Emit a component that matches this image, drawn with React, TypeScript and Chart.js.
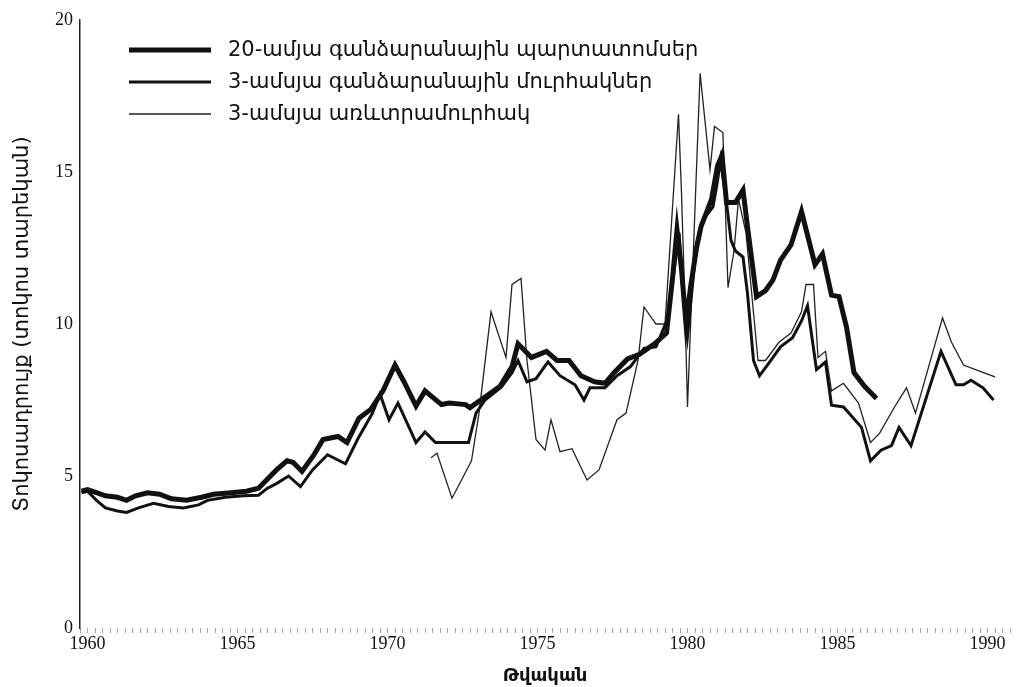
import React, { useEffect, useRef } from 'react';
import { Chart, registerables } from 'chart.js';

Chart.register(...registerables);

// 20-year treasury bonds
const bondYears = [1959.8, 1960.0, 1960.3, 1960.6, 1961.0, 1961.3, 1961.6, 1962.0, 1962.4, 1962.8, 1963.3, 1963.8, 1964.2, 1964.8, 1965.3, 1965.7, 1966.0, 1966.3, 1966.65, 1966.85, 1967.15, 1967.55, 1967.85, 1968.35, 1968.65, 1969.05, 1969.45, 1969.85, 1970.25, 1970.55, 1970.95, 1971.25, 1971.8, 1972.05, 1972.6, 1972.75, 1973.25, 1973.75, 1974.15, 1974.35, 1974.8, 1975.3, 1975.65, 1976.05, 1976.45, 1976.9, 1977.25, 1977.55, 1978.0, 1978.4, 1978.9, 1979.3, 1979.5, 1979.65, 1979.8, 1979.95, 1980.1, 1980.3, 1980.45, 1980.8, 1981.0, 1981.15, 1981.3, 1981.6, 1981.85, 1982.0, 1982.3, 1982.6, 1982.85, 1983.1, 1983.45, 1983.8, 1984.25, 1984.5, 1984.8, 1985.05, 1985.3, 1985.55, 1985.9, 1986.3];
const bondValues = [4.5, 4.55, 4.45, 4.35, 4.3, 4.2, 4.35, 4.45, 4.4, 4.25, 4.2, 4.3, 4.4, 4.45, 4.5, 4.6, 4.9, 5.2, 5.5, 5.45, 5.15, 5.7, 6.2, 6.3, 6.1, 6.9, 7.2, 7.8, 8.65, 8.1, 7.3, 7.8, 7.35, 7.4, 7.35, 7.25, 7.6, 7.95, 8.6, 9.35, 8.9, 9.1, 8.8, 8.8, 8.3, 8.1, 8.05, 8.4, 8.85, 9.0, 9.35, 9.7, 11.5, 13.1, 11.8, 10.0, 11.2, 12.5, 13.2, 14.1, 15.2, 15.55, 14.0, 14.0, 14.4, 13.2, 10.9, 11.1, 11.45, 12.1, 12.6, 13.7, 11.95, 12.3, 10.95, 10.9, 9.9, 8.4, 7.95, 7.55];

// 3-year treasury notes
const noteYears = [1959.8, 1960.0, 1960.3, 1960.6, 1961.0, 1961.3, 1961.7, 1962.2, 1962.7, 1963.2, 1963.7, 1964.0, 1964.6, 1965.2, 1965.7, 1966.0, 1966.3, 1966.7, 1967.1, 1967.5, 1968.0, 1968.6, 1969.0, 1969.5, 1969.75, 1970.05, 1970.35, 1970.95, 1971.25, 1971.6, 1972.0, 1972.7, 1972.95, 1973.25, 1973.8, 1974.15, 1974.35, 1974.65, 1974.95, 1975.35, 1975.75, 1976.25, 1976.55, 1976.75, 1977.25, 1977.65, 1978.1, 1978.55, 1978.95, 1979.35, 1979.6, 1979.72, 1979.85, 1980.0, 1980.3, 1980.5, 1980.85, 1981.0, 1981.1, 1981.3, 1981.45, 1981.6, 1981.85, 1982.0, 1982.2, 1982.4, 1982.7, 1983.1, 1983.5, 1983.8, 1984.0, 1984.3, 1984.6, 1984.8, 1985.2, 1985.8, 1986.1, 1986.45, 1986.8, 1987.05, 1987.45, 1988.45, 1988.95, 1989.2, 1989.45, 1989.85, 1990.2];
const noteValues = [4.45, 4.5, 4.2, 3.95, 3.85, 3.8, 3.95, 4.1, 4.0, 3.95, 4.05, 4.2, 4.3, 4.35, 4.37, 4.6, 4.75, 5.0, 4.65, 5.2, 5.7, 5.4, 6.2, 7.07, 7.7, 6.85, 7.4, 6.1, 6.45, 6.1, 6.1, 6.1, 7.07, 7.5, 7.93, 8.4, 8.8, 8.1, 8.2, 8.75, 8.3, 8.0, 7.5, 7.9, 7.9, 8.3, 8.6, 9.2, 9.25, 10.2, 12.1, 13.0, 11.0, 9.6, 12.65, 13.4, 13.85, 14.7, 15.4, 14.0, 12.75, 12.4, 12.2, 11.0, 8.8, 8.3, 8.7, 9.25, 9.55, 10.1, 10.6, 8.5, 8.75, 7.33, 7.27, 6.6, 5.5, 5.85, 6.0, 6.6, 6.0, 9.1, 8.0, 8.0, 8.15, 7.9, 7.5];

// 3-month commercial paper
const billYears = [1971.45, 1971.65, 1972.15, 1972.8, 1973.05, 1973.45, 1973.95, 1974.15, 1974.45, 1974.65, 1974.95, 1975.25, 1975.45, 1975.75, 1976.15, 1976.65, 1977.05, 1977.65, 1977.95, 1978.35, 1978.55, 1978.95, 1979.25, 1979.7, 1979.8, 1979.9, 1980.0, 1980.42, 1980.75, 1980.9, 1981.18, 1981.35, 1981.55, 1981.7, 1981.95, 1982.35, 1982.6, 1983.05, 1983.45, 1983.8, 1983.95, 1984.2, 1984.35, 1984.6, 1984.8, 1985.2, 1985.7, 1986.1, 1986.4, 1986.9, 1987.3, 1987.6, 1988.5, 1988.8, 1989.2, 1989.6, 1990.25];
const billValues = [5.6, 5.75, 4.27, 5.5, 7.07, 10.4, 8.9, 11.3, 11.5, 8.8, 6.2, 5.85, 6.85, 5.8, 5.9, 4.87, 5.2, 6.85, 7.07, 8.8, 10.56, 10.0, 10.0, 16.9, 14.3, 11.1, 7.27, 18.25, 15.07, 16.5, 16.3, 11.2, 12.4, 14.1, 13.0, 8.8, 8.8, 9.4, 9.7, 10.4, 11.3, 11.3, 8.9, 9.1, 7.8, 8.05, 7.4, 6.1, 6.4, 7.27, 7.9, 7.07, 10.2, 9.4, 8.65, 8.5, 8.26];

const seriesLabels = [
  '20-ամյա գանձարանային պարտատոմսեր',
  '3-ամսյա գանձարանային մուրհակներ',
  '3-ամսյա առևտրամուրհակ',
];
const yAxisTitle = 'Տոկոսադրույք (տոկոս տարեկան)';
const xAxisTitle = 'Թվական';
const xLabelYears = [1960, 1965, 1970, 1975, 1980, 1985, 1990];

const toPoints = (xs: number[], ys: number[]) => xs.map((x, i) => ({ x, y: ys[i] }));

const legendPlugin = {
  id: 'armLegend',
  afterDraw(chart: any) {
    const ctx = chart.ctx;
    ctx.save();
    chart.data.datasets.forEach((ds: any, i: number) => {
      const y = 50 + i * 32;
      ctx.beginPath();
      ctx.moveTo(129, y);
      ctx.lineTo(211, y);
      ctx.lineWidth = ds.borderWidth;
      ctx.strokeStyle = ds.borderColor;
      ctx.stroke();
      ctx.fillStyle = '#111';
      ctx.font = '21px "DejaVu Sans"';
      ctx.textBaseline = 'middle';
      ctx.textAlign = 'left';
      ctx.fillText(ds.label, 228, y + 1);
    });
    ctx.restore();
  },
};

export default function App() {
  const ref = useRef<HTMLCanvasElement | null>(null);
  useEffect(() => {
    if (!ref.current) return;
    const chart = new Chart(ref.current, {
      type: 'line',
      data: {
        datasets: [
          { label: seriesLabels[0], data: toPoints(bondYears, bondValues), borderColor: '#111', borderWidth: 5, pointRadius: 0, tension: 0 },
          { label: seriesLabels[1], data: toPoints(noteYears, noteValues), borderColor: '#111', borderWidth: 3, pointRadius: 0, tension: 0 },
          { label: seriesLabels[2], data: toPoints(billYears, billValues), borderColor: '#222', borderWidth: 1.3, pointRadius: 0, tension: 0 },
        ],
      },
      options: {
        animation: false,
        responsive: false,
        devicePixelRatio: 1,
        layout: { padding: { top: 20, right: 19, left: 0, bottom: 0 } },
        plugins: { legend: { display: false }, tooltip: { enabled: false } },
        scales: {
          x: {
            type: 'linear',
            min: 1959.75,
            max: 1990.75,
            border: { display: false },
            grid: { drawOnChartArea: false, drawTicks: true, tickLength: 5, color: '#aaa' },
            ticks: {
              stepSize: 0.25,
              autoSkip: false,
              maxRotation: 0,
              padding: 0,
              color: '#111',
              font: { family: '"Liberation Serif"', size: 18 },
              callback: (v: any) => (xLabelYears.includes(Number(v)) ? String(v) : ''),
            },
            title: { display: true, text: xAxisTitle, color: '#111', font: { family: '"DejaVu Sans"', size: 18, weight: 'bold' }, padding: { top: 10, bottom: 0 } },
            afterFit: (s: any) => { s.height = 59; },
          },
          y: {
            min: 0,
            max: 20,
            border: { display: true, color: '#222', width: 1.5 },
            grid: { drawOnChartArea: false, drawTicks: false },
            ticks: { stepSize: 5, padding: 7, color: '#111', font: { family: '"Liberation Serif"', size: 18 } },
            title: { display: true, text: yAxisTitle, color: '#111', font: { family: '"DejaVu Sans"', size: 21 }, padding: { top: 10, bottom: 0 } },
            afterFit: (s: any) => { s.width = 80; },
          },
        },
      },
      plugins: [legendPlugin],
    });
    return () => chart.destroy();
  }, []);
  return (
    <div style={{ position: 'fixed', left: 0, top: 0, width: 1029, height: 687, background: '#fff' }}>
      <canvas ref={ref} width={1029} height={687} />
    </div>
  );
}
